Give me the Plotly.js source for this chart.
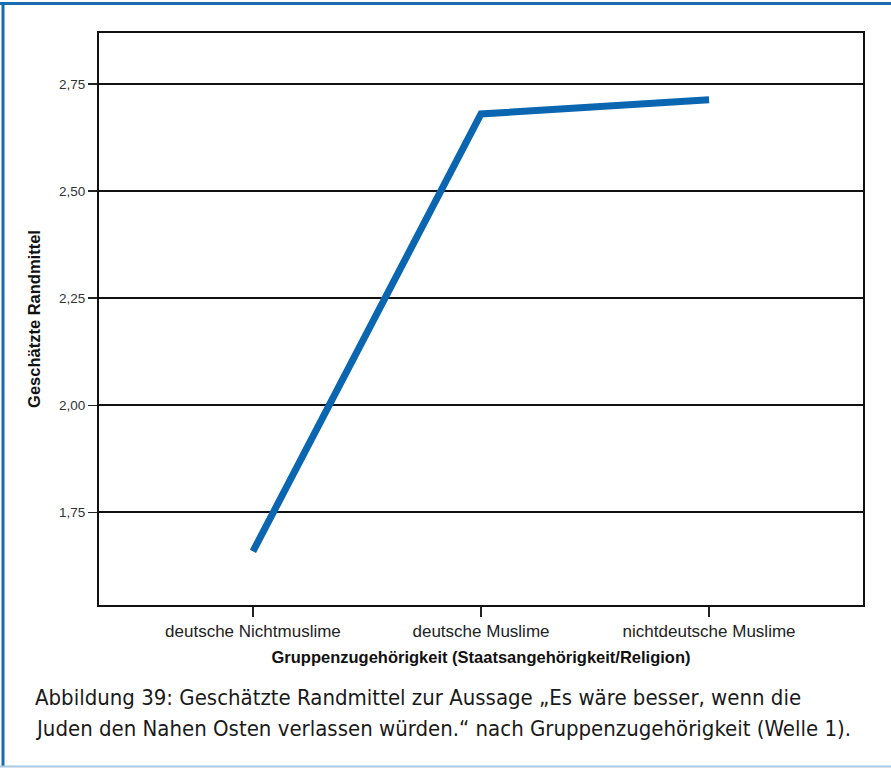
<!DOCTYPE html>
<html>
<head>
<meta charset="utf-8">
<script src="https://cdn.plot.ly/plotly-3.0.1.min.js"></script>
<style>
html,body{margin:0;padding:0;background:#fff;}
#chart{width:891px;height:768px;}
</style>
</head>
<body>
<div id="chart"></div>
<script>
const categories = ["deutsche Nichtmuslime", "deutsche Muslime", "nichtdeutsche Muslime"];
const means = [1.659, 2.680, 2.713];
const yTicks = [1.75, 2.00, 2.25, 2.50, 2.75];
const yTitle = "Geschätzte Randmittel";
const xTitle = "Gruppenzugehörigkeit (Staatsangehörigkeit/Religion)";
const captionLines = [
  "Abbildung 39: Geschätzte Randmittel zur Aussage „Es wäre besser, wenn die",
  "Juden den Nahen Osten verlassen würden.“ nach Gruppenzugehörigkeit (Welle 1)."
];

const W = 891, H = 768;
const M = {l: 99, r: 28, t: 33, b: 163};
const pw = W - M.l - M.r, ph = H - M.t - M.b;
const px = x => (x - M.l) / pw;
const py = y => (H - M.b - y) / ph;

const trace = {
  type: "scatter",
  mode: "lines",
  x: categories,
  y: means,
  line: {color: "#0a66b1", width: 7},
  hoverinfo: "skip"
};

const capFont = {family: "Liberation Sans Narrow, DejaVu Sans Condensed, Arial Narrow, sans-serif", size: 22, color: "#1a1a1a"};

const layout = {
  width: W, height: H,
  margin: M,
  paper_bgcolor: "#fff",
  plot_bgcolor: "#fff",
  separators: ",.",
  showlegend: false,
  xaxis: {
    type: "category",
    range: [-0.675, 2.675],
    showgrid: false,
    zeroline: false,
    showline: true, mirror: true, linecolor: "#111", linewidth: 2,
    ticks: "outside", ticklen: 10, tickwidth: 1.5, tickcolor: "#222",
    tickfont: {family: "Liberation Sans, Arial, sans-serif", size: 17, color: "#222"},
    title: {text: "<b>" + xTitle + "</b>", font: {family: "Liberation Sans, Arial, sans-serif", size: 16.5, color: "#111"}, standoff: 11}
  },
  yaxis: {
    range: [1.534, 2.869],
    tickvals: yTicks,
    tickformat: ".2f",
    showgrid: true, gridcolor: "#111", gridwidth: 2,
    zeroline: false,
    showline: true, mirror: true, linecolor: "#111", linewidth: 2,
    ticks: "outside", ticklen: 9, tickwidth: 1.5, tickcolor: "#222",
    tickfont: {family: "Liberation Sans, Arial, sans-serif", size: 13.5, color: "#333"},
    title: {text: "<b>" + yTitle + "</b>", font: {family: "Liberation Sans, Arial, sans-serif", size: 16.5, color: "#111"}, standoff: 14}
  },
  shapes: [
    {type: "line", xref: "paper", yref: "paper", x0: px(0), x1: px(W), y0: py(3.5), y1: py(3.5), line: {color: "#1a6cb2", width: 3}},
    {type: "line", xref: "paper", yref: "paper", x0: px(3), x1: px(3), y0: py(2), y1: py(767), line: {color: "#1a6cb2", width: 3}},
    {type: "line", xref: "paper", yref: "paper", x0: px(0), x1: px(W), y0: py(766.5), y1: py(766.5), line: {color: "#a9c8e2", width: 2}}
  ],
  annotations: captionLines.map((t, i) => ({
    xref: "paper", yref: "paper",
    x: px(33), y: py(697 + i * 32),
    xanchor: "left", yanchor: "middle",
    showarrow: false,
    text: t,
    font: capFont
  }))
};

Plotly.newPlot("chart", [trace], layout, {displayModeBar: false, staticPlot: true});
</script>
</body>
</html>
